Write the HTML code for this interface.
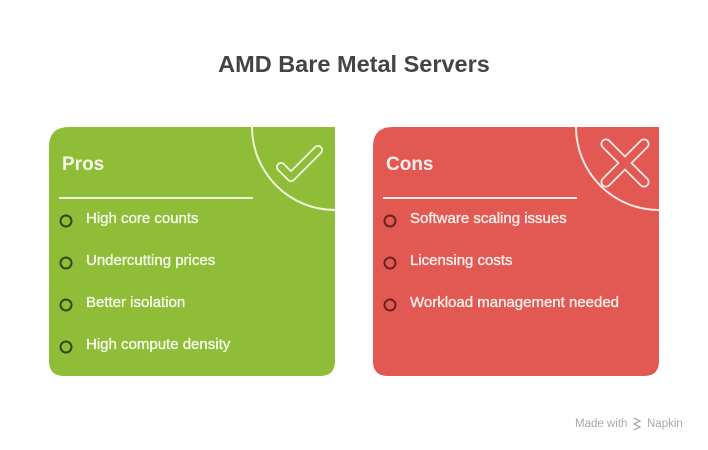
<!DOCTYPE html>
<html><head><meta charset="utf-8"><style>
html,body{margin:0;padding:0;background:#fff;}
body{width:708px;height:450px;overflow:hidden;position:relative;}
svg{position:absolute;left:0;top:0;}
text{font-family:"Liberation Sans",Arial,sans-serif;}
</style></head><body>
<svg width="708" height="450" viewBox="0 0 708 450" xmlns="http://www.w3.org/2000/svg">
  <rect width="708" height="450" fill="#ffffff"/>
  <text x="354" y="72" text-anchor="middle" font-size="23.5" font-weight="bold" fill="#444444">AMD Bare Metal Servers</text>

  <!-- Green card -->
  <defs>
    <clipPath id="cg"><path d="M69 127 H335 V361 Q335 376 320 376 H64 Q49 376 49 361 V147 Q49 127 69 127 Z"/></clipPath>
    <clipPath id="cr"><path d="M393 127 H659 V361 Q659 376 644 376 H388 Q373 376 373 361 V147 Q373 127 393 127 Z"/></clipPath>
  </defs>
  <path d="M69 127 H335 V361 Q335 376 320 376 H64 Q49 376 49 361 V147 Q49 127 69 127 Z" fill="#8fbd38"/>
  <g clip-path="url(#cg)">
    <circle cx="335" cy="127" r="83" fill="none" stroke="#f3f7e0" stroke-width="2"/>
  </g>
  <polyline points="281,167 291,177 318,150" fill="none" stroke="#f3f7e0" stroke-width="10" stroke-linejoin="round" stroke-linecap="round"/>
  <polyline points="281,167 291,177 318,150" fill="none" stroke="#8fbd38" stroke-width="6.5" stroke-linejoin="round" stroke-linecap="round"/>
  <text x="62" y="170" font-size="19" font-weight="bold" fill="#f6f9ea">Pros</text>
  <rect x="59" y="197" width="194" height="2" fill="#f3f7e0"/>
  <g fill="none" stroke="#2f4a12" stroke-width="2">
    <circle cx="66" cy="221" r="5.5"/>
    <circle cx="66" cy="263" r="5.5"/>
    <circle cx="66" cy="305" r="5.5"/>
    <circle cx="66" cy="347" r="5.5"/>
  </g>
  <g font-size="15" fill="#f6f9ea" stroke="#f6f9ea" stroke-width="0.35">
    <text x="86" y="223">High core counts</text>
    <text x="86" y="265">Undercutting prices</text>
    <text x="86" y="307">Better isolation</text>
    <text x="86" y="349">High compute density</text>
  </g>

  <!-- Red card -->
  <path d="M393 127 H659 V361 Q659 376 644 376 H388 Q373 376 373 361 V147 Q373 127 393 127 Z" fill="#e25852"/>
  <g clip-path="url(#cr)">
    <circle cx="659" cy="127" r="83" fill="none" stroke="#fbe9e4" stroke-width="2"/>
  </g>
  <g stroke-linecap="round">
    <line x1="606" y1="144" x2="644" y2="182" stroke="#fbe9e4" stroke-width="11"/>
    <line x1="644" y1="144" x2="606" y2="182" stroke="#fbe9e4" stroke-width="11"/>
    <line x1="606" y1="144" x2="644" y2="182" stroke="#e25852" stroke-width="7.5"/>
    <line x1="644" y1="144" x2="606" y2="182" stroke="#e25852" stroke-width="7.5"/>
  </g>
  <text x="386" y="170" font-size="19" font-weight="bold" fill="#fdf0ec">Cons</text>
  <rect x="383" y="197" width="194" height="2" fill="#fbe9e4"/>
  <g fill="none" stroke="#6e2220" stroke-width="2">
    <circle cx="390" cy="221" r="5.5"/>
    <circle cx="390" cy="263" r="5.5"/>
    <circle cx="390" cy="305" r="5.5"/>
  </g>
  <g font-size="15" fill="#fdf0ec" stroke="#fdf0ec" stroke-width="0.35">
    <text x="410" y="223">Software scaling issues</text>
    <text x="410" y="265">Licensing costs</text>
    <text x="410" y="307">Workload management needed</text>
  </g>

  <!-- watermark -->
  <text x="575" y="427" font-size="11.5" fill="#a8a8a8">Made with</text>
  <g stroke="#a8a8a8" stroke-width="1.3" fill="none">
    <path d="M634 418 L640 421 L634 424 L640 427 L634 430"/>
  </g>
  <text x="647" y="427" font-size="11.5" fill="#a8a8a8">Napkin</text>
</svg>
</body></html>
